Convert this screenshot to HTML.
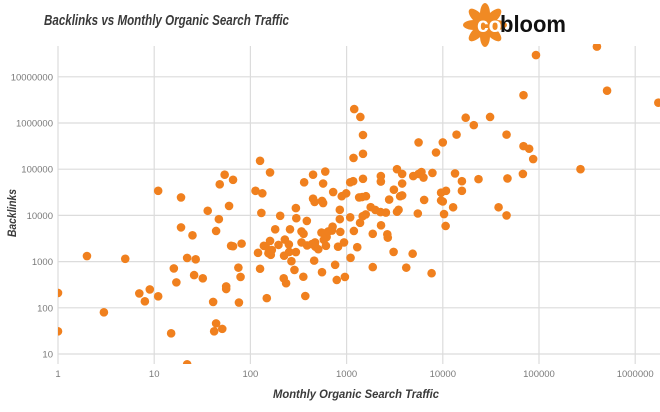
<!DOCTYPE html>
<html><head><meta charset="utf-8">
<style>
html,body{margin:0;padding:0;background:#fff;}
svg{display:block;font-family:"Liberation Sans",sans-serif;}
</style></head>
<body>
<svg id="chart" width="660" height="412" viewBox="0 0 660 412">
  <text x="44" y="25" font-size="15" font-weight="bold" font-style="italic" fill="#3a3a3a" textLength="245" lengthAdjust="spacingAndGlyphs">Backlinks vs Monthly Organic Search Traffic</text>
  <g>
    <g transform="translate(485,25)" fill="#f08a24">
      <ellipse rx="5" ry="11" cy="-11" transform="rotate(0)"/>
      <ellipse rx="5" ry="11" cy="-11" transform="rotate(45)"/>
      <ellipse rx="5" ry="11" cy="-11" transform="rotate(90)"/>
      <ellipse rx="5" ry="11" cy="-11" transform="rotate(135)"/>
      <ellipse rx="5" ry="11" cy="-11" transform="rotate(180)"/>
      <ellipse rx="5" ry="11" cy="-11" transform="rotate(225)"/>
      <ellipse rx="5" ry="11" cy="-11" transform="rotate(270)"/>
      <ellipse rx="5" ry="11" cy="-11" transform="rotate(315)"/>
      <circle r="11"/>
    </g>
    <text x="477" y="32" font-size="21" font-weight="bold" fill="#fff">co</text>
    <text x="500" y="32" font-size="23" font-weight="bold" fill="#111" textLength="66" lengthAdjust="spacingAndGlyphs">bloom</text>
  </g>
  <g id="grid"></g>
  <g id="yticks"></g>
  <g id="xticks"></g>
  <defs><clipPath id="plotclip"><rect x="58" y="44" width="602" height="320"/></clipPath></defs>
  <g id="dots" clip-path="url(#plotclip)"></g>
  <text x="356" y="398" text-anchor="middle" font-size="12" font-weight="bold" font-style="italic" fill="#3a3a3a" textLength="166" lengthAdjust="spacingAndGlyphs">Monthly Organic Search Traffic</text>
  <text transform="translate(16,213) rotate(-90)" text-anchor="middle" font-size="12" font-weight="bold" font-style="italic" fill="#3a3a3a" textLength="48" lengthAdjust="spacingAndGlyphs">Backlinks</text>
</svg>
<script>
const xTicks = [1,10,100,1000,10000,100000,1000000];
const yTicks = [10,100,1000,10000,100000,1000000,10000000];
const xTickLabels = ["1","10","100","1000","10000","100000","1000000"];
const yTickLabels = ["10","100","1000","10000","100000","1000000","10000000"];
const traffic = [1,1,2,3,5,7,8,9,11,11,15,17,16,19,19,22,22,25,27,26,32,36,41,42,44,44,47,48,51,54,56,56,60,63,66,66,75,79,76,81,113,126,133,130,120,126,160,148,138,144,160,154,163,167,181,204,196,224,228,222,235,258,251,253,267,297,300,297,287,362,340,357,340,355,372,386,388,437,470,474,508,448,448,465,460,555,548,555,570,570,600,580,620,610,600,645,
1200,1390,1480,1480,1180,1090,1170,1480,725,990,890,1350,1450,1590,850,1780,1990,2250,2560,1090,850,1470,1580,1380,715,705,860,1190,2280,940,815,1290,760,1100,790,960,1870,1870,2650,2680,3080,3100,2770,2270,2270,3340,3780,3780,3600,3780,3340,3470,4170,4860,4930,5600,6000,6300,5600,5500,6400,7800,7650,8500,10000,9600,10800,9600,10000,10300,10700,12800,13400,13900,15800,15800,17300,21000,23500,31000,38000,46000,46000,47000,69000,79000,87000,68000,270000,1740000,400000,93000,510000,69000];
const backlinks = [210,31,1320,80,1150,205,138,250,34000,177,28,355,710,24500,5500,1200,6,3700,1120,510,435,12600,134,31,46,4600,8300,47000,35,76000,290,255,16000,2200,2150,59000,740,465,130,2450,34000,152000,30000,11300,1550,700,85000,162,2200,2150,2800,1520,1400,1780,5000,9800,2300,1340,3000,435,340,5000,2350,1620,1020,14400,8700,1610,660,52000,4500,4000,2600,470,180,7600,2240,2400,2600,2100,1850,76000,23000,19500,1050,590,4250,20600,18500,49000,89000,2950,3400,2200,4100,4500,
2000000,1350000,550000,215000,175000,52000,55000,62000,32000,30000,26000,24500,25000,26000,13200,15100,13100,11800,11500,9100,8300,9600,10500,6900,5700,4700,4400,4600,6100,2600,2100,2050,850,1210,400,465,4000,760,3900,3300,1620,36000,22000,71000,54000,100000,79000,49000,26000,27000,12000,13200,740,1480,71000,79000,87000,66000,380000,11000,21600,83000,560,230000,380000,31000,34000,21000,20000,10700,5900,15000,81000,560000,55000,34000,1300000,900000,61000,1350000,15000,560000,10000,63000,316000,277000,166000,79000,100000,2750000,45000000,29500000,5000000,4000000];

const NS = "http://www.w3.org/2000/svg";
const xPx = v => 58 + Math.log10(v) * 96.2;
const yPx = v => 354 - (Math.log10(v) - 1) * 46.2;
const grid = document.getElementById('grid');
const yg = document.getElementById('yticks');
const xg = document.getElementById('xticks');
const dots = document.getElementById('dots');
function mk(tag, attrs){const e=document.createElementNS(NS,tag);for(const k in attrs)e.setAttribute(k,attrs[k]);return e;}

yTicks.forEach((t,i)=>{
  const y=yPx(t);
  const l=mk('line',{x1:58,x2:660,y1:y,y2:y,stroke:'#dcdcdc','stroke-width':1.2});
  
  
  grid.appendChild(l);
  const tx=mk('text',{x:53,y:y+3.5,'text-anchor':'end','font-size':9.5,fill:'#7a7a7a'});
  
  
  tx.textContent=yTickLabels[i];
  yg.appendChild(tx);
});
xTicks.forEach((t,i)=>{
  const x=xPx(t);
  const l=mk('line',{x1:x,x2:x,y1:46,y2:364,stroke:'#dcdcdc','stroke-width':1.2});
  
  
  grid.appendChild(l);
  const tx=mk('text',{x:x,y:377,'text-anchor':'middle','font-size':9.5,fill:'#7a7a7a'});
  
  
  tx.textContent=xTickLabels[i];
  xg.appendChild(tx);
});
traffic.forEach((v,i)=>{
  const c=mk('circle',{cx:xPx(v),cy:yPx(backlinks[i]),r:4.3,fill:'#f0801e'});
  
  
  dots.appendChild(c);
});
</script>
</body></html>
